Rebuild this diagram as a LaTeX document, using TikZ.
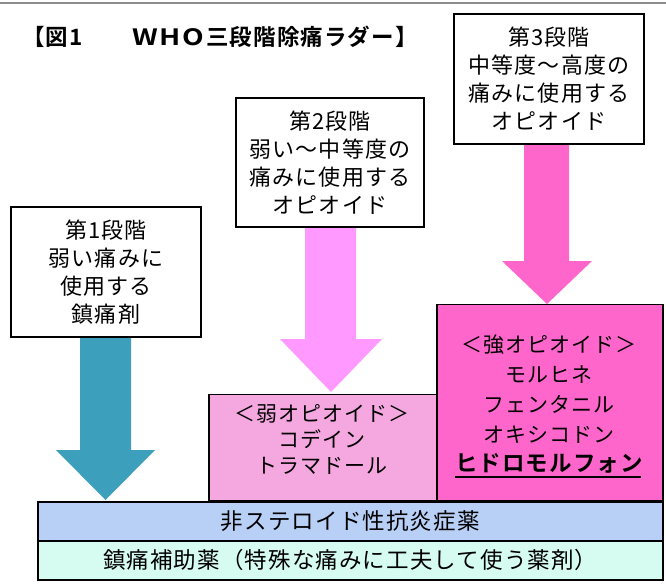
\documentclass[tikz,border=0pt]{standalone}
\usepackage{fontspec}
\usepackage{graphicx}
\setmainfont{Noto Sans CJK JP}[LetterSpace=5,BoldFont={Noto Sans CJK JP Bold}]
\usetikzlibrary{calc}
\definecolor{arrteal}{HTML}{3CA0BC}
\definecolor{arrpinkA}{HTML}{FF99FF}
\definecolor{weakfill}{HTML}{F5A8DF}
\definecolor{strongfill}{HTML}{FF66CC}
\definecolor{nsaidfill}{HTML}{B8CFF6}
\definecolor{adjfill}{HTML}{D6FBF1}
\tikzset{
  stagebox/.style={draw=black, line width=1.5pt, fill=white, minimum width=190pt,
    minimum height=130pt, inner sep=0pt, align=center,
    font=\fontsize{22}{28}\selectfont},
  drugbox/.style={draw=black, line width=1.5pt, inner sep=0pt},
  bodytext/.style={inner sep=0pt, align=center, font=\fontsize{22.5}{28}\selectfont},
}
\begin{document}
\begin{tikzpicture}[x=1pt,y=-1pt]
\useasboundingbox (0,0) rectangle (666,587);
\fill[white] (0,0) rectangle (666,587);
\draw[black!45, line width=2pt] (0,3) -- (666,3);

% title
\node[anchor=west, inner sep=0pt, font=\fontsize{22.5}{24}\bfseries\selectfont] (title) at (22,37)
  {【図1\hspace{50pt}\scalebox{1.25}[1]{WHO}\hspace{2pt}三段階除痛ラダー】};

% base bars
\node[drugbox, fill=nsaidfill, minimum width=625pt, minimum height=39pt, anchor=north west] (nsaid) at (37,501) {};
\node[drugbox, fill=adjfill, minimum width=625pt, minimum height=39pt, anchor=north west] (adj) at (37,540) {};
\node[bodytext] (nsaidt) at (nsaid.center) {非ステロイド性抗炎症薬};
\node[bodytext] (adjt) at (adj.center) {鎮痛補助薬（特殊な痛みに工夫して使う薬剤）};

% drug boxes
\node[drugbox, fill=weakfill, minimum width=228pt, minimum height=106pt, anchor=south west] (weak) at (208,501) {};
\node[drugbox, fill=strongfill, minimum width=226pt, minimum height=196pt, anchor=south west] (strong) at (436,501) {};
\node[bodytext, font=\fontsize{21}{26}\selectfont] (weakt) at (322,439) {＜弱オピオイド＞\\コデイン\\トラマドール};
\node[bodytext, font=\fontsize{21}{30}\selectfont] (strongt) at (549,389) {＜強オピオイド＞\\モルヒネ\\フェンタニル\\オキシコドン};
\node[inner sep=0pt, font=\fontsize{22.5}{24}\bfseries\selectfont] (hydro) at (549,463) {ヒドロモルフォン};
\draw[line width=1.6pt] ($(hydro.south west)+(0,4)$) -- ($(hydro.south east)+(-2,4)$);

% stage boxes
\node[stagebox] (s1) at (106,272) {第1段階\\弱い痛みに\\使用する\\鎮痛剤};
\node[stagebox, minimum width=188pt, minimum height=129pt] (s2) at (330,162.5) {第2段階\\弱い～中等度の\\痛みに使用する\\オピオイド};
\node[stagebox] (s3) at (549,79) {第3段階\\中等度～高度の\\痛みに使用する\\オピオイド};

% block arrows
\fill[arrteal] (80,338) -- (131,338) -- (131,450) -- (155,450) -- (105.5,500) -- (56,450) -- (80,450) -- cycle;
\fill[arrpinkA] (305,228) -- (356,228) -- (356,339) -- (382,339) -- (331,392) -- (280,339) -- (305,339) -- cycle;
\fill[strongfill] (524,145) -- (569,145) -- (569,261) -- (592,261) -- (547,304) -- (502,261) -- (524,261) -- cycle;
\end{tikzpicture}
\end{document}
